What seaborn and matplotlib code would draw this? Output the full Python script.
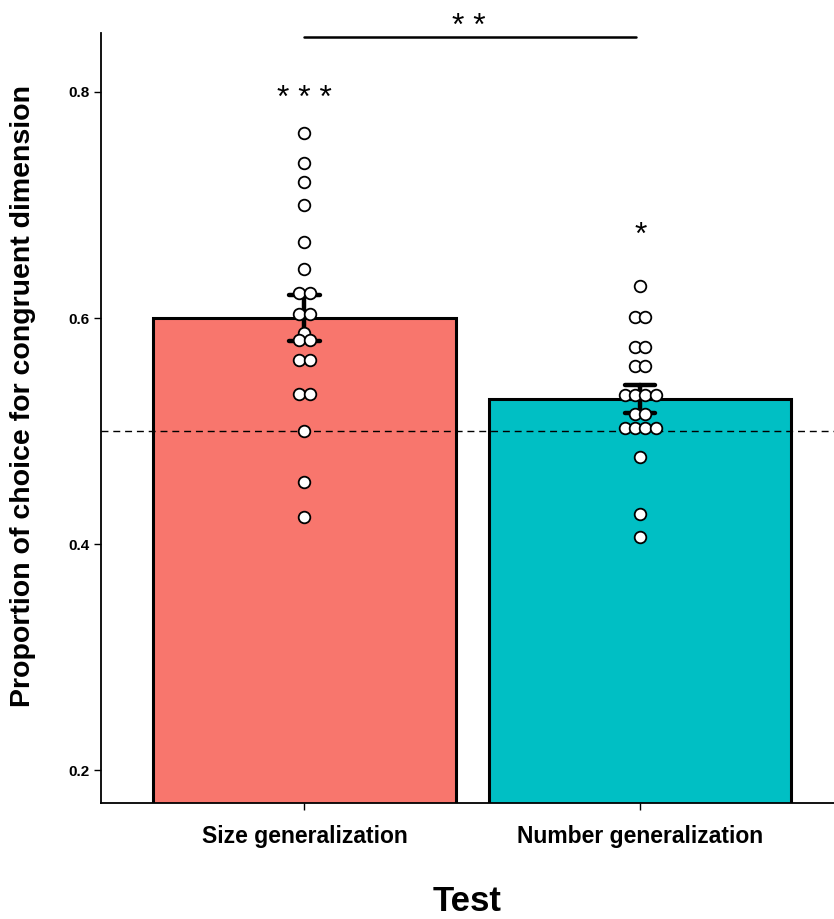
import numpy as np
import pandas as pd
import seaborn as sns
import matplotlib.pyplot as plt

# test conditions
tests = ["Size generalization", "Number generalization"]
colors = ["#F8766D", "#00BFC4"]

# per-subject proportion of congruent choices
size_vals = [0.764, 0.737, 0.720, 0.700, 0.667, 0.643, 0.622, 0.622, 0.604, 0.604,
             0.587, 0.581, 0.581, 0.563, 0.563, 0.533, 0.533, 0.500, 0.455, 0.424]
number_vals = [0.628, 0.601, 0.601, 0.574, 0.574, 0.558, 0.558, 0.532, 0.532, 0.532,
               0.532, 0.515, 0.515, 0.503, 0.503, 0.503, 0.503, 0.477, 0.427, 0.406]

chance = 0.5
yticks = [0.2, 0.4, 0.6, 0.8]


def build_frame():
    rows = []
    for i, vals in enumerate([size_vals, number_vals]):
        for v in vals:
            rows.append({"pos": i, "test": tests[i], "value": v})
    df = pd.DataFrame(rows)
    # centre-stacked dots like a dotplot: spread tied values side by side
    dot_w = 0.031
    df["xdot"] = df["pos"].astype(float)
    for (_, _), grp in df.groupby(["pos", "value"]):
        n = len(grp)
        offs = (np.arange(n) - (n - 1) / 2) * dot_w
        df.loc[grp.index, "xdot"] = grp["pos"] + offs
    return df


def main():
    df = build_frame()

    sns.set_style("white")
    plt.rcParams["font.family"] = ["Liberation Sans", "DejaVu Sans"]
    plt.rcParams["text.color"] = "black"
    plt.rcParams["axes.labelcolor"] = "black"
    plt.rcParams["xtick.color"] = "black"
    plt.rcParams["ytick.color"] = "black"

    fig = plt.figure(figsize=(8.34, 9.19), dpi=100)
    ax = fig.add_axes([0.121, 0.126, 0.879, 0.838])

    sns.barplot(data=df, x="pos", y="value", hue="pos", native_scale=True,
                palette={0: colors[0], 1: colors[1]}, legend=False,
                saturation=1, errorbar="se", capsize=0.09, width=0.9,
                edgecolor="black", linewidth=2.2,
                err_kws={"color": "black", "linewidth": 3.2}, ax=ax)

    sns.scatterplot(data=df, x="xdot", y="value", color="white",
                    edgecolor="black", linewidth=1.3, s=70, zorder=5,
                    legend=False, ax=ax)

    ax.axhline(chance, color="black", linestyle=(0, (5, 3.5)),
               linewidth=1, zorder=1.5)

    # significance marks
    ax.text(0, 0.787, "* * *", ha="center", va="baseline", fontsize=23)
    ax.text(1, 0.6655, "*", ha="center", va="baseline", fontsize=23)
    ax.plot([0, 0.987], [0.8487, 0.8487], color="black", linewidth=1.8,
            clip_on=False)
    ax.text(0.49, 0.850, "* *", ha="center", va="baseline", fontsize=23,
            clip_on=False)

    ax.set_xlim(-0.606, 1.577)
    ax.set_ylim(0.171, 0.852)
    ax.set_xticks([0, 1])
    ax.set_xticklabels(tests, fontsize=16.5, fontweight="bold")
    ax.set_yticks(yticks)
    ax.set_yticklabels([f"{t:.1f}" for t in yticks], fontsize=11,
                       fontweight="bold")
    ax.tick_params(axis="both", length=5, width=1, color="black",
                   direction="out", left=True, bottom=True)
    ax.tick_params(axis="x", pad=11)
    ax.tick_params(axis="y", pad=3)

    ax.set_xlabel("Test", fontsize=25, fontweight="bold", labelpad=26)
    ax.set_ylabel("Proportion of choice for congruent dimension",
                  fontsize=20.5, fontweight="bold",
                  family=["Liberation Sans Narrow", "Liberation Sans"])
    ax.yaxis.set_label_coords(-0.088, 0.529)

    sns.despine(ax=ax)
    for side in ["left", "bottom"]:
        ax.spines[side].set_color("black")
        ax.spines[side].set_linewidth(1.3)

    fig.savefig("out.png", dpi=100)
    plt.close(fig)


if __name__ == "__main__":
    main()
